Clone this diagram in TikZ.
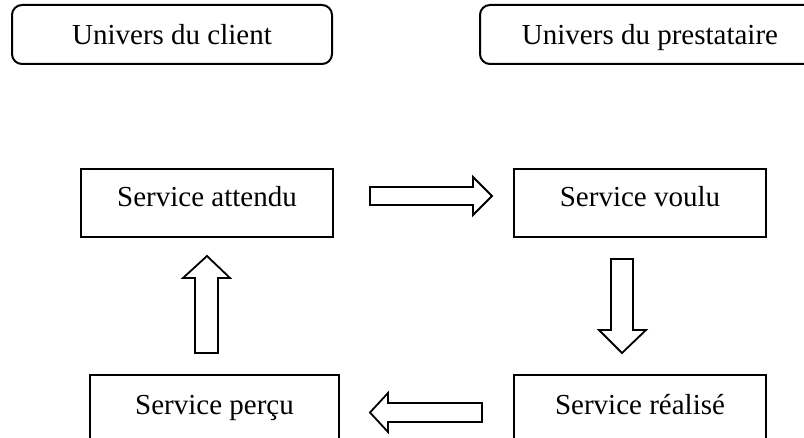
\documentclass[tikz,border=0pt]{standalone}
\usepackage{fontspec}
\setmainfont{Liberation Serif}
\begin{document}
\begin{tikzpicture}[x=1pt,y=-1pt,
  every node/.style={inner sep=0pt, font=\fontsize{29}{35}\selectfont},
  universe/.style={draw, line width=2pt, rounded corners=10pt,
    minimum width=#1, minimum height=59pt, text height=21pt, text depth=0pt},
  stage/.style={draw, line width=2pt, minimum width=#1, minimum height=68pt,
    text height=20pt, text depth=12pt},
  lowstage/.style={stage=#1, text depth=8pt},
  blockarrow/.style={draw, fill=white, line width=1.8pt, line join=miter}]
  \useasboundingbox (0,0) rectangle (804,438);
  \clip (0,0) rectangle (804,438);

  % the two universes
  \node[universe=320pt] (client) at (172,34.5) {Univers du client};
  \node[universe=340pt] (prest) at (650,34.5) {Univers du prestataire};

  % the four stages of the service
  \node[stage=252pt] (attendu) at (207,203) {Service attendu};
  \node[stage=252pt] (voulu) at (640,203) {Service voulu};
  \node[lowstage=249pt] (percu) at (214.5,409) {Service perçu};
  \node[lowstage=252pt] (realise) at (640,409) {Service réalisé};

  % block arrows of the cycle
  \draw[blockarrow] (370,187) -- (473,187) -- (473,177) -- (492,196)
    -- (473,215) -- (473,205) -- (370,205) -- cycle;
  \draw[blockarrow] (611,259) -- (633,259) -- (633,330) -- (646,330)
    -- (622,353) -- (599,330) -- (611,330) -- cycle;
  \draw[blockarrow] (482,403) -- (388,403) -- (388,393) -- (370,412.5)
    -- (388,432) -- (388,422) -- (482,422) -- cycle;
  \draw[blockarrow] (195,353) -- (195,278) -- (183,278) -- (207,256)
    -- (230,278) -- (218,278) -- (218,353) -- cycle;
\end{tikzpicture}
\end{document}
